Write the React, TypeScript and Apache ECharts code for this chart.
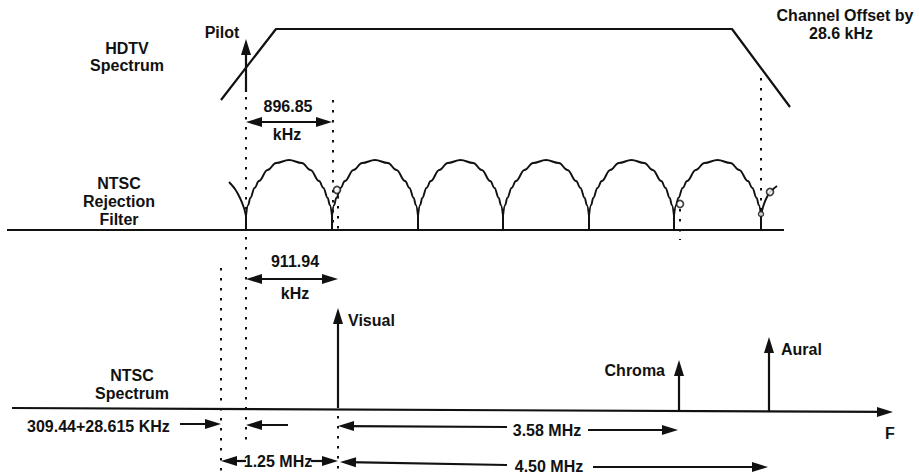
import React, { useEffect, useRef } from "react";
import * as echarts from "echarts";

// Diagram positions (x: frequency position, y: vertical level from top)
const hdtvSpectrum: number[][] = [[221, 100], [276, 29], [732, 29], [790, 107]];
const filterBaseline: number[][] = [[7, 230], [784, 230]];
const filterNulls: number[] = [246, 332, 418, 503, 589, 674, 761];
const cuspY = 216;
const humpProfile: number[][] = [
  [0, 216], [0.025, 205], [0.05, 198], [0.1, 188], [0.15, 181], [0.25, 170], [0.35, 163],
  [0.5, 160], [0.65, 163], [0.75, 170], [0.85, 181], [0.9, 188], [0.95, 198], [0.975, 205], [1, 216],
];
const leftPartialHump: number[][] = [[229, 182], [235, 189], [240, 198], [244, 208], [246, 216]];
const rightPartialHump: number[][] = [[761, 216], [763, 207], [766, 199], [770, 192], [777, 186]];
const carrierMarks: number[][] = [[337, 190], [680, 204], [770, 192]];
const cuspLoop: number[][] = [[761, 214]];

const ntscAxis: number[][] = [[12, 408], [893, 412]];
// vertical carriers: [x, base, tip]
const pilotCarrier = [246, 92, 39];
const visualCarrier = [338, 408, 308];
const chromaCarrier = [679, 412, 360];
const auralCarrier = [769, 412, 337];

const dottedLines: number[][][] = [
  [[246, 97], [246, 440]],
  [[333, 100], [333, 228]],
  [[221, 268], [221, 472]],
  [[761, 78], [761, 212]],
  [[338, 196], [338, 230]],
  [[680, 209], [680, 240]],
  [[338, 416], [338, 472]],
];

// dimension arrows: [tail, tip]
const singleArrows: number[][][] = [
  [[180, 424], [221, 424]],
  [[288, 425], [246, 425]],
  [[507, 427], [338, 426]],
  [[588, 430], [678, 430]],
  [[246, 461], [221, 461]],
  [[311, 461], [338, 461]],
  [[507, 465], [340, 462]],
  [[593, 467], [768, 467]],
];
const doubleArrows: number[][][] = [
  [[246, 122], [332, 122]],
  [[246, 279], [338, 279]],
];

const labels: { t: string; x: number; y: number; a: string }[] = [
  { t: "Pilot", x: 222, y: 32, a: "center" },
  { t: "HDTV", x: 127, y: 48, a: "center" },
  { t: "Spectrum", x: 127, y: 65, a: "center" },
  { t: "Channel Offset by", x: 845, y: 15, a: "center" },
  { t: "28.6 kHz", x: 841, y: 33, a: "center" },
  { t: "896.85", x: 288, y: 106, a: "center" },
  { t: "kHz", x: 287, y: 134, a: "center" },
  { t: "NTSC", x: 119, y: 183, a: "center" },
  { t: "Rejection", x: 119, y: 201, a: "center" },
  { t: "Filter", x: 119, y: 219, a: "center" },
  { t: "911.94", x: 295, y: 261, a: "center" },
  { t: "kHz", x: 295, y: 293, a: "center" },
  { t: "Visual", x: 348, y: 320, a: "left" },
  { t: "NTSC", x: 132, y: 375, a: "center" },
  { t: "Spectrum", x: 132, y: 393, a: "center" },
  { t: "Chroma", x: 665, y: 370, a: "right" },
  { t: "Aural", x: 781, y: 349, a: "left" },
  { t: "F", x: 890, y: 433, a: "center" },
  { t: "309.44+28.615 KHz", x: 27, y: 426, a: "left" },
  { t: "3.58 MHz", x: 547, y: 430, a: "center" },
  { t: "1.25 MHz", x: 278, y: 461, a: "center" },
  { t: "4.50 MHz", x: 549, y: 466, a: "center" },
];

const INK = "#111";
const HEAD_W = 10;
const HEAD_L = 16;

function pullBack(from: number[], to: number[], d: number): number[] {
  const dx = to[0] - from[0];
  const dy = to[1] - from[1];
  const len = Math.hypot(dx, dy) || 1;
  return [to[0] - (dx / len) * d, to[1] - (dy / len) * d];
}

export default function App() {
  const ref = useRef<HTMLDivElement>(null);
  useEffect(() => {
    if (!ref.current) return;
    const chart = echarts.init(ref.current, null, { renderer: "svg" });

    const humps = filterNulls.slice(0, -1).map((a, i) => {
      const b = filterNulls[i + 1];
      return humpProfile.map(([u, y]) => [a + u * (b - a), y]);
    });
    const stems = filterNulls.map((x) => ({ coords: [[x, cuspY], [x, 230]] }));

    const carriers = [pilotCarrier, visualCarrier, chromaCarrier, auralCarrier].map(([x, b, t]) => [
      [x, b],
      [x, t],
    ]);
    const single = [...singleArrows, ...carriers, ntscAxis].map(([f, t]) => ({
      coords: [f, pullBack(f, t, HEAD_L / 2)],
    }));
    const double = doubleArrows.map(([f, t]) => ({
      coords: [pullBack(t, f, HEAD_L / 2), pullBack(f, t, HEAD_L / 2)],
    }));

    const curveStyle = { color: INK, width: 1.9 };
    const series: any[] = [
      {
        type: "line",
        data: hdtvSpectrum,
        showSymbol: false,
        lineStyle: { color: INK, width: 2.2 },
        silent: true,
      },
      {
        type: "line",
        data: filterBaseline,
        showSymbol: false,
        lineStyle: { color: INK, width: 2.2 },
        silent: true,
      },
      ...humps.map((h) => ({
        type: "line",
        data: h,
        smooth: 0.4,
        smoothMonotone: "x",
        showSymbol: false,
        lineStyle: curveStyle,
        silent: true,
      })),
      ...[leftPartialHump, rightPartialHump].map((h) => ({
        type: "line",
        data: h,
        smooth: 0.3,
        showSymbol: false,
        lineStyle: curveStyle,
        silent: true,
      })),
      {
        type: "lines",
        coordinateSystem: "cartesian2d",
        data: stems,
        lineStyle: { color: INK, width: 2, opacity: 1 },
        silent: true,
      },
      {
        type: "lines",
        coordinateSystem: "cartesian2d",
        data: dottedLines.map((c) => ({ coords: c })),
        lineStyle: { color: INK, width: 2, type: [2.5, 7.5], opacity: 1 },
        silent: true,
      },
      {
        type: "lines",
        coordinateSystem: "cartesian2d",
        data: single,
        symbol: ["none", "triangle"],
        symbolSize: [[HEAD_W, HEAD_L], [HEAD_W, HEAD_L]],
        lineStyle: { color: INK, width: 2.2, opacity: 1 },
        silent: true,
      },
      {
        type: "lines",
        coordinateSystem: "cartesian2d",
        data: double,
        symbol: ["triangle", "triangle"],
        symbolSize: [[HEAD_W, HEAD_L], [HEAD_W, HEAD_L]],
        lineStyle: { color: INK, width: 2.2, opacity: 1 },
        silent: true,
      },
      {
        type: "scatter",
        data: carrierMarks,
        symbol: "circle",
        symbolSize: 7,
        itemStyle: { color: "#fff", borderColor: INK, borderWidth: 1.7 },
        silent: true,
        z: 5,
      },
      {
        type: "scatter",
        data: cuspLoop,
        symbol: "circle",
        symbolSize: 5,
        itemStyle: { color: "#fff", borderColor: INK, borderWidth: 1.5 },
        silent: true,
        z: 5,
      },
    ];

    chart.setOption({
      animation: false,
      backgroundColor: "#fff",
      grid: { left: 0, right: 0, top: 0, bottom: 0 },
      xAxis: { type: "value", min: 0, max: 919, show: false },
      yAxis: { type: "value", min: 0, max: 473, inverse: true, show: false },
      series,
      graphic: labels.map((l) => ({
        type: "text",
        x: l.x,
        y: l.y,
        silent: true,
        style: {
          text: l.t,
          fill: INK,
          fontFamily: "Liberation Sans, Arial, sans-serif",
          fontWeight: "bold",
          fontSize: 16,
          textAlign: l.a,
          textVerticalAlign: "middle",
        },
      })),
    });
    return () => chart.dispose();
  }, []);
  return (
    <div
      ref={ref}
      style={{ position: "fixed", left: 0, top: 0, width: 919, height: 473, background: "#fff" }}
    />
  );
}
